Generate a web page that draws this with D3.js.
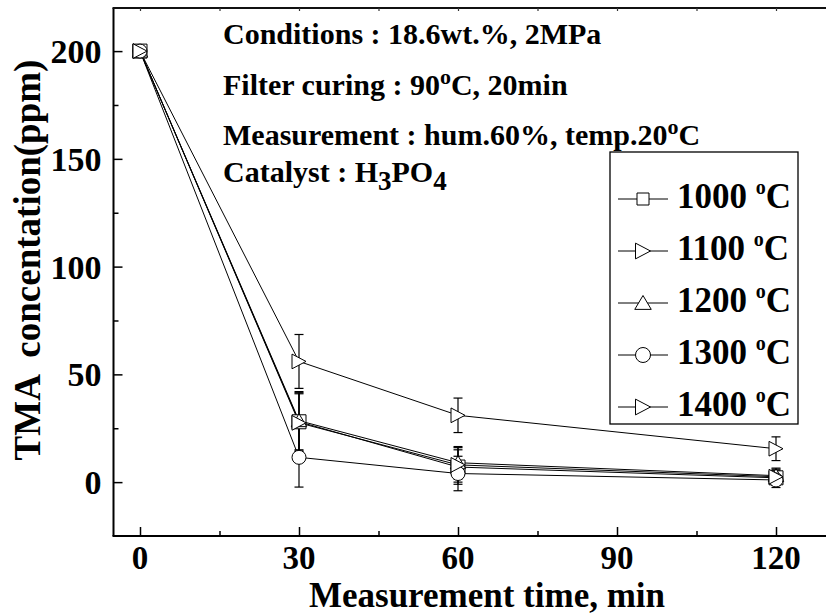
<!DOCTYPE html>
<html>
<head>
<meta charset="utf-8">
<script src="https://cdn.jsdelivr.net/npm/d3@7/dist/d3.min.js"></script>
<style>
  html, body { margin: 0; padding: 0; background: #fff; }
  svg { display: block; }
  text { font-family: "Liberation Serif", "Times New Roman", serif; font-weight: bold; fill: #000; }
</style>
</head>
<body>
<script>
// ---------- data ----------
const times = [0, 30, 60, 120];
const seriesNames = ["1000", "1100", "1200", "1300", "1400"];
const seriesSymbols = ["square", "triRight", "triUp", "circle", "triRight"];
const v1000 = [200, 28, 7, 2];
const v1100 = [200, 56, 31, 15.5];
const v1200 = [200, 28.5, 9, 3];
const v1300 = [200, 11.5, 4, 1];
const v1400 = [200, 27.5, 8, 2.5];
const e1000 = [0, 13.5, 8, 3.5];
const e1100 = [0, 12.5, 8, 5.5];
const e1200 = [0, 13.5, 7.5, 3.5];
const e1300 = [0, 13.8, 8, 3.5];
const e1400 = [0, 13.5, 8, 3.5];
const xTickValues = [0, 30, 60, 90, 120];
const xMinorTicks = [15, 45, 75, 105];
const yTickValues = [0, 50, 100, 150, 200];
const yMinorTicks = [25, 75, 125, 175];
const annotations = [
  [{t: "Conditions : 18.6wt.%, 2MPa"}],
  [{t: "Filter curing : 90"}, {t: "o", sup: true}, {t: "C, 20min", back: 11}],
  [{t: "Measurement : hum.60%, temp.20"}, {t: "o", sup: true}, {t: "C", back: 11}],
  [{t: "Catalyst : H"}, {t: "3", sub: true}, {t: "PO", back: -8}, {t: "4", sub: true}]
];

const allValues = [v1000, v1100, v1200, v1300, v1400];
const allErrors = [e1000, e1100, e1200, e1300, e1400];

// ---------- layout ----------
const W = 826, H = 615;
const svg = d3.select("body").append("svg").attr("width", W).attr("height", H);
svg.append("rect").attr("width", W).attr("height", H).attr("fill", "#fff");

const x = d3.scaleLinear().domain([-5, 130]).range([113.5, 829]);
const y = d3.scaleLinear().domain([-25, 220]).range([536, 8]);

const plotL = x(-5), plotT = y(220), plotB = y(-25);

// ---------- axes ----------
const axisG = svg.append("g");
axisG.append("line").attr("x1", plotL).attr("x2", plotL).attr("y1", plotT).attr("y2", plotB)
  .attr("stroke", "#000").attr("stroke-width", 2);
axisG.append("line").attr("x1", plotL - 1).attr("x2", W).attr("y1", plotB).attr("y2", plotB)
  .attr("stroke", "#000").attr("stroke-width", 2);
axisG.append("line").attr("x1", plotL - 1).attr("x2", W).attr("y1", plotT).attr("y2", plotT)
  .attr("stroke", "#111").attr("stroke-width", 2);

const yAxis = d3.axisRight(y).tickValues(yTickValues).tickSize(9).tickFormat("");
const yg = svg.append("g").attr("transform", `translate(${plotL},0)`).call(yAxis);
yg.select(".domain").remove();
yg.selectAll(".tick line").attr("stroke", "#000").attr("stroke-width", 1.5);
const yAxisMinor = d3.axisRight(y).tickValues(yMinorTicks).tickSize(5).tickFormat("");
const ygm = svg.append("g").attr("transform", `translate(${plotL},0)`).call(yAxisMinor);
ygm.select(".domain").remove();
ygm.selectAll(".tick line").attr("stroke", "#000").attr("stroke-width", 1.5);

svg.append("g").selectAll("text").data(yTickValues).join("text")
  .attr("x", plotL - 12).attr("y", d => y(d)).attr("dy", "0.35em")
  .attr("text-anchor", "end").style("font-size", "34px").text(d => d);

const xAxis = d3.axisTop(x).tickValues(xTickValues).tickSize(9).tickFormat("");
const xg = svg.append("g").attr("transform", `translate(0,${plotB})`).call(xAxis);
xg.select(".domain").remove();
xg.selectAll(".tick line").attr("stroke", "#000").attr("stroke-width", 1.5);
const xAxisMinor = d3.axisTop(x).tickValues(xMinorTicks).tickSize(5).tickFormat("");
const xgm = svg.append("g").attr("transform", `translate(0,${plotB})`).call(xAxisMinor);
xgm.select(".domain").remove();
xgm.selectAll(".tick line").attr("stroke", "#000").attr("stroke-width", 1.5);

const xTop = d3.axisBottom(x).tickValues(xTickValues.concat(xMinorTicks)).tickSize(3).tickFormat("");
const xtg = svg.append("g").attr("transform", `translate(0,${plotT})`).call(xTop);
xtg.select(".domain").remove();
xtg.selectAll(".tick line").attr("stroke", "#333").attr("stroke-width", 1.2);

svg.append("g").selectAll("text").data(xTickValues).join("text")
  .attr("x", d => x(d)).attr("y", 568.5)
  .attr("text-anchor", "middle").style("font-size", "33px").text(d => d);

svg.append("text").attr("x", 487).attr("y", 606.5).attr("text-anchor", "middle")
  .style("font-size", "35px").text("Measurement time, min");
svg.append("text").attr("transform", "translate(40,260) rotate(-90)")
  .attr("text-anchor", "middle").style("font-size", "37px").style("white-space", "pre")
  .attr("xml:space", "preserve").text("TMA  concentation(ppm)");

// ---------- marker shapes ----------
function markerPath(kind, s) {
  const h = s / 2;
  if (kind === "square") return `M${-h},${-h}H${h}V${h}H${-h}Z`;
  if (kind === "triRight") return `M${-h},${-h * 1.05}L${h},0L${-h},${h * 1.05}Z`;
  if (kind === "triUp") return `M0,${-h}L${h * 1.1},${h * 0.85}L${-h * 1.1},${h * 0.85}Z`;
  if (kind === "circle") return `M${h},0A${h},${h} 0 1,1 ${-h},0A${h},${h} 0 1,1 ${h},0Z`;
  return "";
}

// ---------- series ----------
const line = d3.line().x((d, i) => x(times[i])).y(d => y(d));
const dataG = svg.append("g");
allValues.forEach(vals => {
  dataG.append("path").attr("d", line(vals)).attr("fill", "none")
    .attr("stroke", "#000").attr("stroke-width", 1);
});
allValues.forEach((vals, si) => {
  const errs = allErrors[si];
  vals.forEach((v, i) => {
    if (!errs[i]) return;
    const cx = x(times[i]);
    const g = dataG.append("g").attr("stroke", "#000").attr("stroke-width", 1.2);
    g.append("line").attr("x1", cx).attr("x2", cx).attr("y1", y(v - errs[i])).attr("y2", y(v + errs[i]));
    g.append("line").attr("x1", cx - 4.5).attr("x2", cx + 4.5).attr("y1", y(v - errs[i])).attr("y2", y(v - errs[i]));
    g.append("line").attr("x1", cx - 4.5).attr("x2", cx + 4.5).attr("y1", y(v + errs[i])).attr("y2", y(v + errs[i]));
  });
});
allValues.forEach((vals, si) => {
  vals.forEach((v, i) => {
    dataG.append("path").attr("d", markerPath(seriesSymbols[si], 14))
      .attr("transform", `translate(${x(times[i])},${y(v)})`)
      .attr("fill", "#fff").attr("stroke", "#000").attr("stroke-width", 1);
  });
});

// ---------- annotations ----------
const annBase = [44, 95, 145, 182];
annotations.forEach((parts, li) => {
  const t = svg.append("text").attr("x", 223).attr("y", annBase[li]).style("font-size", "30px");
  parts.forEach(p => {
    const ts = t.append("tspan").text(p.t);
    if (p.sup) ts.style("font-size", "22px").attr("dy", -11);
    else if (p.sub) ts.style("font-size", "27px").attr("dy", 8);
    if (p.back) ts.attr("dy", p.back);
  });
});

// ---------- legend ----------
const legG = svg.append("g");
legG.append("rect").attr("x", 610).attr("y", 152).attr("width", 188).attr("height", 272)
  .attr("fill", "#fff").attr("stroke", "#000").attr("stroke-width", 1.3);
seriesNames.forEach((name, i) => {
  const base = 208 + i * 52;
  const cy = base - 9;
  legG.append("line").attr("x1", 618).attr("x2", 668).attr("y1", cy).attr("y2", cy)
    .attr("stroke", "#000").attr("stroke-width", 1);
  legG.append("path").attr("d", markerPath(seriesSymbols[i], seriesSymbols[i] === "square" ? 12 : 15))
    .attr("transform", `translate(643,${cy})`)
    .attr("fill", "#fff").attr("stroke", "#000").attr("stroke-width", 1);
  const t = legG.append("text").attr("x", 677).attr("y", base).style("font-size", "35px");
  t.append("tspan").text(name + " ");
  t.append("tspan").text("o").style("font-size", "20px").attr("dy", -14);
  t.append("tspan").text("C").attr("dy", 14);
});
</script>
</body>
</html>
